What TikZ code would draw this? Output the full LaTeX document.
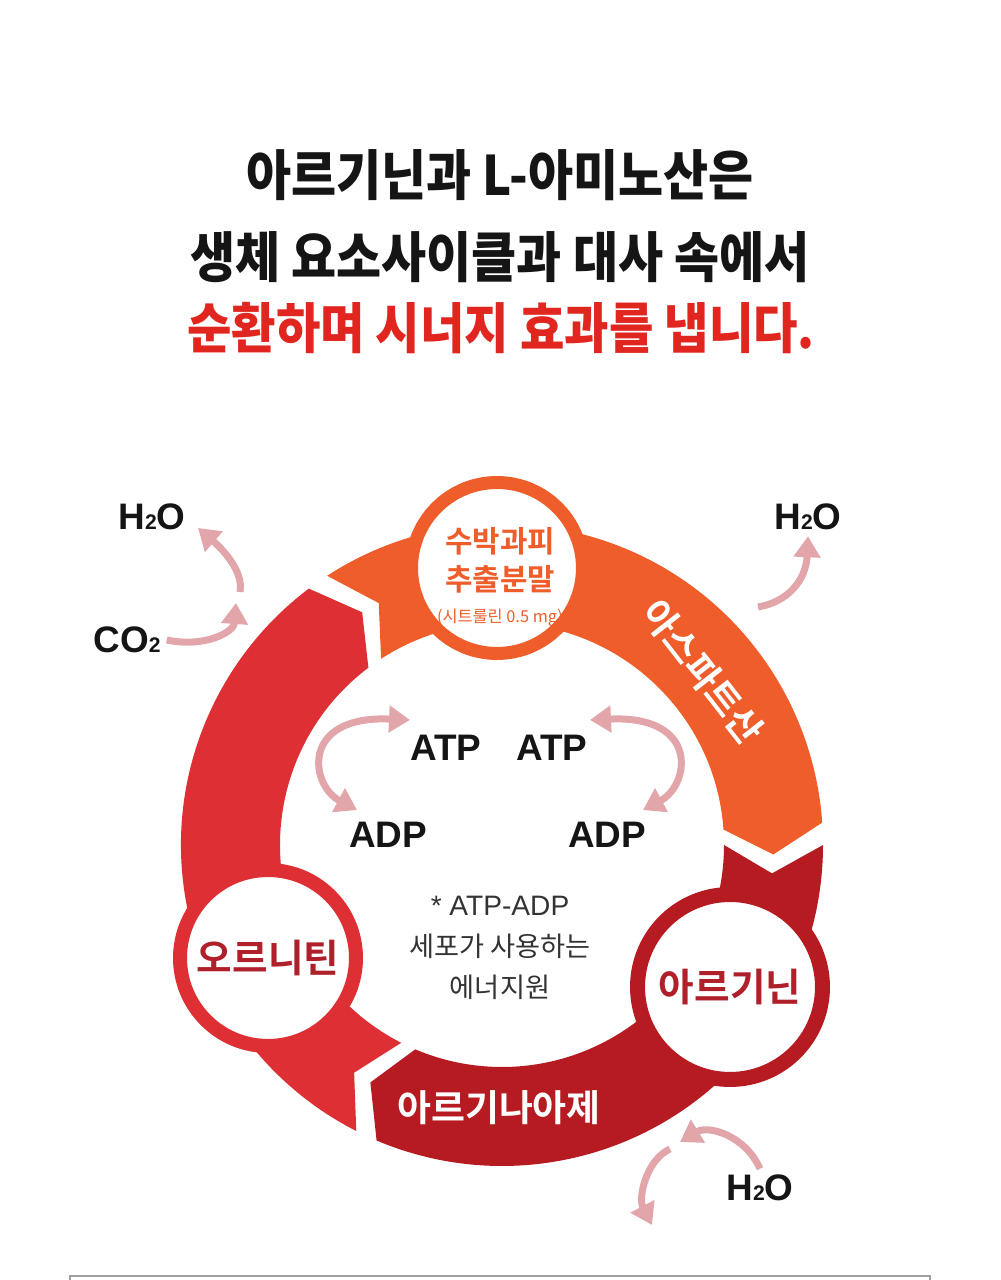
\documentclass[tikz,border=0pt]{standalone}
\usepackage{fontspec}
\setmainfont{Noto Sans CJK KR}[BoldFont={Noto Sans CJK KR Bold}]
\newfontfamily\krblack{Noto Sans CJK KR Black}
\newfontfamily\latsf{Liberation Sans}
\usetikzlibrary{arrows.meta}
\definecolor{ink}{HTML}{151515}
\definecolor{headred}{HTML}{E1251F}
\definecolor{aspor}{HTML}{EE5D2A}
\definecolor{ornred}{HTML}{DE3034}
\definecolor{argred}{HTML}{B61B21}
\definecolor{txtred}{HTML}{B0202A}
\definecolor{rose}{HTML}{E2A6AA}
\definecolor{notegray}{HTML}{333333}
\definecolor{rulegray}{HTML}{A0A0A0}
\newcommand{\ringout}{321}
\newcommand{\ringin}{222}
\newcommand{\ringmid}{271.5}
\newcommand{\tipang}{6}
\newcommand{\chemsub}[1]{{\fontsize{12}{12}\selectfont #1}}
\newcommand{\cyclearrow}[3]{%
  \fill[#1] (#2:\ringout) arc[start angle=#2, end angle=#3, radius=\ringout]
    -- ({#3-\tipang}:\ringmid) -- (#3:\ringin)
    arc[start angle=#3, end angle=#2, radius=\ringin]
    -- ({#2-\tipang}:\ringmid) -- cycle;}

\begin{document}
\begin{tikzpicture}[
  x=0.02cm, y=0.02cm,
  title/.style={font=\krblack\fontsize{31}{31}\selectfont, text=ink, xscale=0.9, inner sep=0pt},
  chem/.style={font=\latsf\bfseries\fontsize{21}{21}\selectfont, text=ink},
  badge/.style={circle, draw, fill=white, inner sep=0pt},
  bandtxt/.style={text=white, font=\bfseries\fontsize{21}{21}\selectfont},
  cycarr/.style={draw=rose, line width=0.14cm, >={Triangle[length=0.42cm, width=0.52cm]}, ->},
  cycboth/.style={cycarr, <->}
]
  \fill[white] (0,0) rectangle (1000,1280);
  \useasboundingbox (0,0) rectangle (1000,1280);

  \node[title] (t1) at (500,1105) {아르기닌과 L-아미노산은};
  \node[title] (t2) at (500,1023) {생체 요소사이클과 대사 속에서};
  \node[title, text=headred, xscale=0.985] (t3) at (501,952) {순환하며 시너지 효과를 냅니다.};

  \begin{scope}[shift={(502,435)}]
    \cyclearrow{aspor}{123}{4}
    \cyclearrow{argred}{0}{-113}
    \cyclearrow{ornred}{243}{127}
  \end{scope}

  \node[badge, draw=aspor, line width=0.26cm, minimum size=3.42cm] (wm) at (497,712) {};
  \node[align=center, text=aspor, font=\bfseries\fontsize{17}{21.5}\selectfont] (wmtxt) at (500,703)
    {수박과피\\추출분말\\[-3pt]{\mdseries\fontsize{9.3}{10}\selectfont (시트룰린 0.5 mg)}};
  \node[badge, draw=argred, line width=0.3cm, minimum size=3.7cm, text=txtred,
        font=\bfseries\fontsize{22}{22}\selectfont] (arg) at (730,293) {아르기닌};
  \node[badge, draw=ornred, line width=0.28cm, minimum size=3.52cm, text=txtred,
        font=\bfseries\fontsize{22}{22}\selectfont] (orn) at (268,322) {오르니틴};

  \node[bandtxt, rotate=-52] (asp) at (703,608) {아스파트산};
  \node[bandtxt] (ase) at (499,172) {아르기나아제};

  \node[chem] (h2oA) at (152,763) {H\chemsub{2}O};
  \node[chem] (co2) at (127,640) {CO\chemsub{2}};
  \node[chem] (h2oB) at (808,763) {H\chemsub{2}O};
  \node[chem] (h2oC) at (760,92) {H\chemsub{2}O};
  \node[chem] (atpL) at (446,532) {ATP};
  \node[chem] (atpR) at (552,532) {ATP};
  \node[chem] (adpL) at (388,445) {ADP};
  \node[chem] (adpR) at (607,445) {ADP};

  \node[align=center, text=notegray, font=\fontsize{15.5}{23.4}\selectfont] (note) at (500,332)
    {{\latsf\fontsize{16}{16}\selectfont * ATP-ADP}\\세포가 사용하는\\에너지원};

  \coordinate (tlA) at (236,677);
  \coordinate (tlB) at (240,688);
  \coordinate (tlC) at (198,752);
  \coordinate (trA) at (758,673);
  \coordinate (brA) at (680,138);
  \coordinate (brB) at (670,131);
  \coordinate (brC) at (652,55);
  \coordinate (lpA) at (357,470);
  \coordinate (lpB) at (410,560);
  \coordinate (rpA) at (643,470);
  \coordinate (rpB) at (590,560);

  \draw[cycarr] (co2.east) .. controls (205,632) and (234,648) .. (tlA);
  \draw[cycarr] (tlB) .. controls (244,710) and (220,733) .. (tlC);
  \draw[cycarr] (trA) .. controls (788,678) and (806,700) .. (h2oB.south);
  \draw[cycarr] (h2oC.north) .. controls (745,145) and (708,155) .. (brA);
  \draw[cycarr] (brB) .. controls (646,120) and (638,82) .. (brC);
  \draw[cycboth] (lpA) .. controls (310,495) and (300,565) .. (lpB);
  \draw[cycboth] (rpA) .. controls (690,495) and (700,565) .. (rpB);

  \draw[rulegray, line width=0.04cm] (70,0) -- (70,4) -- (930,4) -- (930,0);
\end{tikzpicture}
\end{document}
